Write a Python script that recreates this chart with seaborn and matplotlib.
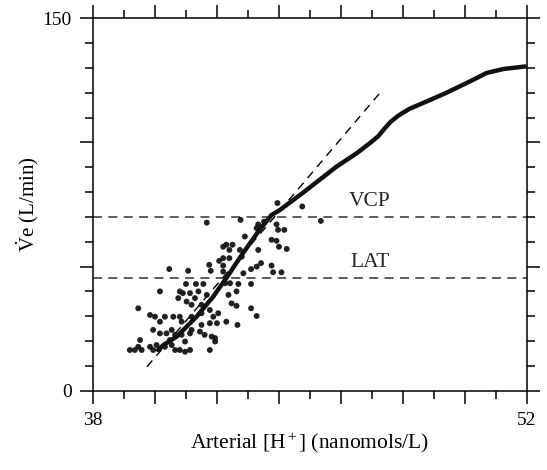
import matplotlib
matplotlib.use("Agg")
import matplotlib.pyplot as plt
from matplotlib.ticker import MultipleLocator, FixedFormatter, FixedLocator
import seaborn as sns
import pandas as pd

# ---- data ----
scatter_x = [41.67, 42.2, 40.46, 41.07, 41.75, 41.8, 42.07, 42.2, 42.2, 42.2,
             43.95, 44.75, 45.35, 42.76, 43.28, 43.33, 43.52, 43.92, 43.97, 44.17,
             42.9, 43.76, 43.92, 44.0, 44.25, 43.33, 42.3, 42.5, 42.4, 42.4,
             42.8, 43.42, 43.28, 43.1, 43.76, 43.81, 44.08, 42.85,
             40.16, 41.0, 41.32, 41.56, 40.8, 41.13, 41.4, 41.67, 40.75, 41.02,
             41.18, 41.29, 39.46, 39.84, 40.0, 40.16, 40.32, 40.59, 40.8, 40.86,
             41.18, 41.5, 41.77, 42.04, 41.88, 41.77, 42.0, 39.94, 40.16, 40.37,
             40.54, 40.65, 40.86, 41.13, 41.18, 41.45, 41.5, 41.6, 41.83, 41.94,
             39.52, 39.46, 39.19, 39.35, 39.57, 39.84, 39.94, 40.05, 40.32, 40.54,
             40.65, 40.8, 40.97, 41.13, 41.77, 40.97, 40.48,
             42.42, 42.69, 43.1, 42.37, 42.63, 42.47, 42.63, 43.1, 43.28, 42.3, 42.66,
             41.5, 42.26, 42.74, 40.9, 41.94]
scatter_y = [67.7, 58.0, 49.0, 48.3, 50.7, 48.3, 52.3, 53.4, 50.4, 48.0,
             75.6, 74.2, 68.4, 68.8, 65.5, 67.0, 68.1, 67.0, 64.8, 64.8,
             62.1, 60.8, 60.4, 58.0, 57.1, 56.7, 58.8, 58.8, 56.7, 53.4,
             54.0, 51.4, 50.0, 49.0, 50.4, 47.7, 47.7, 47.3,
             40.0, 43.0, 43.0, 43.0, 40.0, 39.3, 40.0, 38.6, 37.3, 35.9,
             34.6, 37.3, 33.2, 30.5, 29.8, 27.8, 29.8, 29.8, 29.8, 27.8,
             29.8, 31.2, 32.5, 31.2, 29.8, 27.2, 27.2, 24.5, 23.1, 23.1,
             24.5, 22.5, 22.5, 23.1, 24.5, 23.8, 26.5, 22.5, 21.8, 19.8,
             20.4, 17.7, 16.4, 16.4, 16.4, 17.7, 16.4, 18.4, 17.7, 18.4,
             16.4, 16.4, 15.7, 16.4, 16.4, 19.8, 20.4,
             43.3, 43.0, 43.0, 38.6, 40.0, 35.2, 34.2, 33.2, 30.1, 27.8, 26.5,
             34.6, 43.3, 56.7, 39.3, 21.2]

curve_x = [40.1, 40.27, 40.7, 41.02, 41.34, 41.61, 41.88, 42.1, 42.26, 42.8,
           43.33, 43.76, 44.03, 44.8, 45.86, 46.5, 46.94, 47.2, 47.4, 47.6,
           47.85, 48.2, 48.76, 49.4, 50.16, 50.7, 51.24, 51.94]
curve_y = [16.4, 18.4, 21.8, 25.8, 29.8, 33.9, 37.9, 41.9, 44.6, 54.7,
           64.1, 70.8, 72.8, 80.0, 90.3, 95.6, 99.8, 102.5, 105.5, 108.3,
           110.8, 113.5, 116.5, 120.0, 124.6, 128.0, 129.6, 130.6]

slope_x = [39.74, 47.26]
slope_y = [9.6, 120.0]

threshold_names = ["VCP", "LAT"]
threshold_values = [70.0, 45.5]
threshold_label_x = 46.94

x_range = [38, 52]
y_range = [0, 150]
x_tick_labels = ["38", "52"]
y_tick_labels = ["0", "150"]

# ---- style ----
sns.set_theme(style="ticks")
plt.rcParams["font.family"] = ["Liberation Serif", "DejaVu Serif"]
plt.rcParams["mathtext.fontset"] = "custom"
plt.rcParams["mathtext.rm"] = "Liberation Serif"
plt.rcParams["mathtext.it"] = "Liberation Serif:italic"

fig = plt.figure(figsize=(5.47, 4.70), dpi=100)
ax = fig.add_axes([0.170, 0.1687, 0.7934, 0.7923])

df_s = pd.DataFrame({"x": scatter_x, "y": scatter_y})
df_c = pd.DataFrame({"x": curve_x, "y": curve_y})
df_d = pd.DataFrame({"x": slope_x, "y": slope_y})

sns.scatterplot(data=df_s, x="x", y="y", ax=ax, s=18, color="#151515",
                edgecolor="none", alpha=0.95, zorder=3)
sns.lineplot(data=df_c, x="x", y="y", ax=ax, sort=False, color="#111111",
             linewidth=3.2, zorder=4, estimator=None)
sns.lineplot(data=df_d, x="x", y="y", ax=ax, sort=False, color="black",
             linewidth=1.0, linestyle=(0, (6, 4.5)), zorder=2, estimator=None)

for name, val in zip(threshold_names, threshold_values):
    ax.axhline(val, color="#505050", linewidth=1.3, linestyle=(0, (5, 3.5)), zorder=1)
    ax.text(threshold_label_x, val + 2.3, name, ha="center", va="bottom", fontsize=15.5)

ax.set_xlim(*x_range)
ax.set_ylim(*y_range)

ax.xaxis.set_major_locator(FixedLocator([38, 40, 42, 44, 46, 48, 50, 52]))
ax.xaxis.set_minor_locator(MultipleLocator(1))
ax.xaxis.set_major_formatter(FixedFormatter([x_tick_labels[0], "", "", "", "", "", "", x_tick_labels[1]]))
ax.yaxis.set_major_locator(FixedLocator([0, 50, 100, 150]))
ax.yaxis.set_minor_locator(MultipleLocator(10))
ax.yaxis.set_major_formatter(FixedFormatter([y_tick_labels[0], "", "", y_tick_labels[1]]))

for s in ax.spines.values():
    s.set_visible(True)
    s.set_linewidth(1.1)
    s.set_color("black")

ax.tick_params(which="both", direction="out", top=True, right=True, color="black",
               width=1.1, labelsize=14, labelcolor="black")
ax.tick_params(which="major", length=9.4, pad=6)
ax.tick_params(which="minor", length=5.6)

ax.set_xlabel("Arterial [H$^+$] (nanomols/L)", fontsize=15.5, labelpad=1, color="black")
ax.set_ylabel(r"$\dot{\mathrm{V}}$e (L/min)", fontsize=15, labelpad=1, color="black")
ax.set_facecolor("white")

fig.savefig("out.png", dpi=100, facecolor="white")
